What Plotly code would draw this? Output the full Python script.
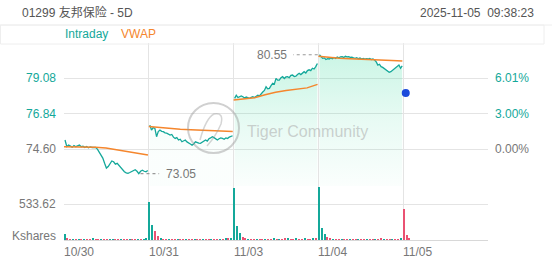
import plotly.graph_objects as go

# ---------------- data ----------------
TITLE = "01299 友邦保险 - 5D"
TIMESTAMP = "2025-11-05\u00a0\u00a009:38:23"
DAYS = ["10/30", "10/31", "11/03", "11/04", "11/05"]
PREV_CLOSE = 74.60
PRICE_TICKS = [74.60, 76.84, 79.08]
VOL_TICK = 533.62
VOL_UNIT = "Kshares"

PRICE_D1 = [75.17, 74.75, 74.85, 74.80, 74.72, 74.82, 74.75, 74.80, 74.85, 74.75,
            74.78, 74.70, 74.76, 74.68, 74.74, 74.70, 74.72, 74.70, 74.60, 74.43,
            74.20, 74.03, 73.70, 73.40, 73.50, 73.65, 73.85, 73.80, 73.65, 73.70,
            73.55, 73.40, 73.30, 73.17, 73.10, 73.07, 73.12, 73.17, 73.25, 73.30,
            73.20, 73.05, 73.20, 73.27, 73.20, 73.17, 73.25]
PRICE_D2 = [76.11, 75.80, 75.95, 75.90, 75.38, 75.70, 75.80, 75.72, 75.70, 75.62,
            75.60, 75.55, 75.48, 75.52, 75.35, 75.27, 75.32, 75.17, 75.22, 75.06,
            75.12, 75.17, 75.05, 74.96, 74.92, 74.85, 74.92, 75.06, 75.00, 74.98,
            74.96, 75.05, 75.10, 75.17, 75.10, 75.25, 75.30, 75.38, 75.32, 75.25,
            75.17, 75.25, 75.30, 75.27, 75.22, 75.30, 75.27, 75.35, 75.40, 75.44]
PRICE_D3 = [77.80, 78.00, 77.85, 77.90, 77.95, 77.90, 77.82, 77.88, 77.84, 77.80,
            77.86, 77.90, 77.85, 77.95, 78.00, 77.95, 78.10, 78.20, 78.30, 78.53,
            78.40, 78.43, 78.60, 78.75, 78.70, 79.06, 78.95, 78.95, 79.10, 79.17,
            79.05, 79.15, 79.17, 79.10, 79.25, 79.27, 79.18, 79.20, 79.30, 79.38,
            79.30, 79.42, 79.48, 79.40, 79.55, 79.60, 79.55, 79.70, 79.65, 79.80,
            80.00]
PRICE_D4 = [80.55, 80.40, 80.32, 80.35, 80.25, 80.30, 80.28, 80.35, 80.30, 80.38,
            80.32, 80.40, 80.36, 80.42, 80.43, 80.38, 80.45, 80.42, 80.43, 80.38,
            80.40, 80.35, 80.32, 80.36, 80.30, 80.34, 80.28, 80.32, 80.27, 80.30,
            80.28, 80.32, 80.25, 80.28, 80.22, 80.10, 79.90, 79.95, 79.80, 79.75,
            79.68, 79.59, 79.50, 79.44, 79.48, 79.56, 79.62, 79.70, 79.80, 79.90,
            79.70, 79.85]
PRICES = [PRICE_D1, PRICE_D2, PRICE_D3, PRICE_D4]

VWAP_D1 = [74.75, 74.74, 74.73, 74.72, 74.66, 74.55, 74.44, 74.33, 74.22]
VWAP_D2 = [76.02, 75.95, 75.90, 75.85, 75.82, 75.79, 75.76, 75.73, 75.70]
VWAP_D3 = [77.70, 77.76, 77.84, 78.02, 78.18, 78.29, 78.37, 78.46, 78.68]
VWAP_D4 = [80.45, 80.38, 80.33, 80.30, 80.28, 80.26, 80.23, 80.19, 80.15]
VWAPS = [VWAP_D1, VWAP_D2, VWAP_D3, VWAP_D4]

LAST_PRICE = 78.13

VOL_D1 = [95, 25, 15, 12, 8, 10, 6, 9, 5, 12, 18, 8, 6, 10, 7,
          5, 8, 6, 4, 9, 7, 5, 8, 6, 10, 7, 9, 12, 8, 20]
VOL_D2 = [565, 230, 140, 60, 25, 15, 10, 8, 12, 6, 9, 7, 5, 8, 6,
          10, 5, 7, 9, 6, 8, 12, 7, 10, 15, 9, 12, 18, 25, 30]
VOL_D3 = [780, 210, 110, 45, 20, 14, 10, 8, 12, 9, 15, 10, 8, 12, 30,
          10, 9, 14, 20, 35, 12, 15, 25, 12, 9, 16, 10, 12, 18, 28]
VOL_D4 = [790, 180, 95, 40, 18, 12, 9, 8, 10, 6, 8, 7, 9, 12, 8,
          6, 10, 7, 9, 8, 12, 10, 25, 14, 9, 8, 10, 12, 15, 22]
VOL_D5 = [460, 80, 25]
VOLS = [VOL_D1, VOL_D2, VOL_D3, VOL_D4, VOL_D5]
DIR_D1 = "uddudududduddudduudduddudduduu"
DIR_D2 = "uudduddudduddudduddudduddududu"
DIR_D3 = "uuudduddudduddududduddudduddud"
DIR_D4 = "uuuddudduddudduddudduddudduddu"
DIR_D5 = "ddd"
DIRS = [DIR_D1, DIR_D2, DIR_D3, DIR_D4, DIR_D5]

# ---------------- style ----------------
W, H = 552, 265
TEAL = "#14a89a"
ORANGE = "#f5862d"
RED = "#ea5273"
BLUE = "#1b4bdb"
GRAY = "#777777"
GRID = "#e4e4e4"
FONT = "Liberation Sans, Arial, Noto Sans CJK SC, sans-serif"
FILL_TOP_ALPHA = [0.0, 0.04, 0.24, 0.24]   # per-day fill strength


def fx(p):
    return p / W


def fy(p):
    return 1 - p / H


PRICE_RANGE = [72.27, 81.29]
VOL_RANGE = [0, 808]
NBIN = 30

fig = go.Figure()

# price lines with gradient fill
for d, series in enumerate(PRICES):
    n = len(series)
    xs = [d + 0.012 + i * 0.976 / (n - 1) for i in range(n)]
    a = FILL_TOP_ALPHA[d]
    kw = {}
    if a > 0:
        kw = dict(fill="tozeroy",
                  fillgradient=dict(type="vertical", start=PRICE_RANGE[0], stop=max(series),
                                    colorscale=[[0, "rgba(40,215,150,0.02)"],
                                                [0.5, f"rgba(40,215,150,{a*0.45:.3f})"],
                                                [1, f"rgba(40,215,150,{a:.3f})"]]))
    fig.add_trace(go.Scatter(
        x=xs, y=series, mode="lines", line=dict(color=TEAL, width=1.3),
        hoverinfo="skip", showlegend=False, xaxis="x", yaxis="y", **kw))

for d, series in enumerate(VWAPS):
    n = len(series)
    xs = [d + i / (n - 1) * 0.99 for i in range(n)]
    fig.add_trace(go.Scatter(
        x=xs, y=series, mode="lines", line=dict(color=ORANGE, width=1.5),
        hoverinfo="skip", showlegend=False, xaxis="x", yaxis="y"))

fig.add_trace(go.Scatter(
    x=[4.03], y=[LAST_PRICE], mode="markers",
    marker=dict(color=BLUE, size=8, line=dict(width=0)),
    hoverinfo="skip", showlegend=False, xaxis="x", yaxis="y"))

# volume bars
vx, vy, vc = [], [], []
for d, (vals, dirs) in enumerate(zip(VOLS, DIRS)):
    for i, v in enumerate(vals):
        vx.append(d + 0.008 + i / NBIN)
        vy.append(v)
        vc.append(TEAL if dirs[i] == "u" else RED)
fig.add_trace(go.Bar(x=vx, y=vy, marker=dict(color=vc, line=dict(width=0)),
                     width=0.016, hoverinfo="skip", showlegend=False,
                     xaxis="x2", yaxis="y2"))

# max / min markers
all_x, all_y = [], []
for d, series in enumerate(PRICES):
    n = len(series)
    for i, v in enumerate(series):
        all_x.append(d + 0.012 + i * 0.976 / (n - 1))
        all_y.append(v)
imax = max(range(len(all_y)), key=lambda k: all_y[k])
imin = min(range(len(all_y)), key=lambda k: all_y[k])
xmax, ymax = all_x[imax], all_y[imax]
xmin, ymin = all_x[imin], all_y[imin]

shapes = []
annotations = []
shapes.append(dict(type="line", xref="x", yref="y", x0=xmax - 0.02, x1=xmax - 0.31,
                   y0=ymax, y1=ymax, line=dict(color="#999999", width=1.2, dash="3px,3px")))
annotations.append(dict(xref="x", yref="y", x=xmax - 0.36, y=ymax, text=f"{ymax:.2f}",
                        showarrow=False, xanchor="right", yanchor="middle",
                        font=dict(size=12, color=GRAY)))
shapes.append(dict(type="line", xref="x", yref="y", x0=xmin + 0.02, x1=xmin + 0.24,
                   y0=ymin, y1=ymin, line=dict(color="#999999", width=1.2, dash="3px,3px")))
annotations.append(dict(xref="x", yref="y", x=xmin + 0.30, y=ymin, text=f"{ymin:.2f}",
                        showarrow=False, xanchor="left", yanchor="middle",
                        font=dict(size=12, color=GRAY)))

# header
annotations.append(dict(xref="paper", yref="paper", x=fx(20), y=fy(13), text=TITLE,
                        showarrow=False, xanchor="left", yanchor="middle",
                        font=dict(size=12, color="#555555")))
annotations.append(dict(xref="paper", yref="paper", x=fx(536), y=fy(13), text=TIMESTAMP,
                        showarrow=False, xanchor="right", yanchor="middle",
                        font=dict(size=12, color="#555555")))
annotations.append(dict(xref="paper", yref="paper", x=fx(63), y=fy(34), text="Intraday",
                        showarrow=False, xanchor="left", yanchor="middle",
                        font=dict(size=12, color=TEAL)))
annotations.append(dict(xref="paper", yref="paper", x=fx(119), y=fy(34), text="VWAP",
                        showarrow=False, xanchor="left", yanchor="middle",
                        font=dict(size=12, color=ORANGE)))
shapes.append(dict(type="line", xref="paper", yref="paper", x0=0, x1=1, y0=fy(25), y1=fy(25),
                   line=dict(color="#eeeeee", width=1)))
shapes.append(dict(type="rect", xref="paper", yref="paper", x0=fx(0.5), x1=fx(544),
                   y0=fy(44), y1=fy(25), line=dict(color="#eeeeee", width=1)))

# price tick labels (left) and percent labels (right)
for v in PRICE_TICKS:
    col = TEAL if v > PREV_CLOSE else GRAY
    annotations.append(dict(xref="paper", yref="y", x=fx(58), y=v, text=f"{v:.2f}",
                            showarrow=False, xanchor="right", yanchor="middle",
                            font=dict(size=12, color=col)))
    pct = (v / PREV_CLOSE - 1) * 100
    annotations.append(dict(xref="paper", yref="y", x=fx(493), y=v, text=f"{pct:.2f}%",
                            showarrow=False, xanchor="left", yanchor="middle",
                            font=dict(size=12, color=col)))

annotations.append(dict(xref="paper", yref="y2", x=fx(58), y=VOL_TICK, text=f"{VOL_TICK:.2f}",
                        showarrow=False, xanchor="right", yanchor="middle",
                        font=dict(size=12, color=GRAY)))
annotations.append(dict(xref="paper", yref="paper", x=fx(58), y=fy(236), text=VOL_UNIT,
                        showarrow=False, xanchor="right", yanchor="middle",
                        font=dict(size=12, color=GRAY)))

for d, lab in enumerate(DAYS):
    annotations.append(dict(xref="x2", yref="paper", x=d, y=fy(252), text=lab,
                            showarrow=False, xanchor="left", yanchor="middle",
                            xshift=-2, font=dict(size=12, color=GRAY)))

# watermark
shapes.append(dict(type="circle", xref="paper", yref="paper",
                   x0=fx(188), x1=fx(239), y0=fy(153), y1=fy(103),
                   line=dict(color="rgba(150,150,150,0.45)", width=2)))
shapes.append(dict(type="path", xref="paper", yref="paper",
                   path=f"M {fx(200)} {fy(140)} Q {fx(206)} {fy(118)} {fx(214)} {fy(114)} "
                        f"Q {fx(224)} {fy(112)} {fx(221)} {fy(124)} Q {fx(216)} {fy(136)} {fx(207)} {fy(146)}",
                   line=dict(color="rgba(150,150,150,0.4)", width=1.5)))
annotations.append(dict(xref="paper", yref="paper", x=fx(245), y=fy(131), text="Tiger Community",
                        showarrow=False, xanchor="left", yanchor="middle",
                        font=dict(size=16, color="rgba(170,170,170,0.55)")))

XDOM = [fx(64), fx(488)]
fig.update_layout(
    width=W, height=H, margin=dict(l=0, r=0, t=0, b=0),
    paper_bgcolor="white", plot_bgcolor="white",
    font=dict(family=FONT, size=12, color=GRAY),
    showlegend=False, bargap=0,
    xaxis=dict(domain=XDOM, anchor="y", range=[0, 5], tickvals=[0, 1, 2, 3, 4, 5],
               showticklabels=False, showgrid=True, gridcolor=GRID, gridwidth=1,
               zeroline=False, showline=False, fixedrange=True),
    yaxis=dict(domain=[fy(186), fy(43)], anchor="x", range=PRICE_RANGE,
               tickvals=PRICE_TICKS, showticklabels=False, showgrid=True,
               gridcolor=GRID, zeroline=False, showline=False),
    xaxis2=dict(domain=XDOM, anchor="y2", range=[0, 5], tickvals=[0, 1, 2, 3, 4, 5],
                showticklabels=False, showgrid=True, gridcolor=GRID, gridwidth=1,
                zeroline=False, showline=True, linecolor="#d8d8d8", linewidth=1),
    yaxis2=dict(domain=[fy(240), fy(186)], anchor="x2", range=VOL_RANGE,
                tickvals=[VOL_TICK], showticklabels=False, showgrid=True,
                gridcolor=GRID, zeroline=False, showline=False),
    shapes=shapes, annotations=annotations,
)

fig.write_html("out.html")
